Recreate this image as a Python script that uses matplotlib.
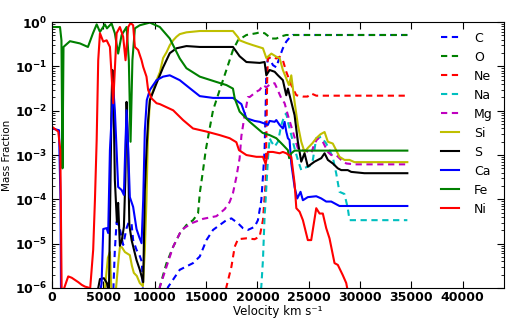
import numpy as np
import matplotlib
matplotlib.use("Agg")
import matplotlib.pyplot as plt
from matplotlib.ticker import FuncFormatter, LogLocator, NullFormatter

# velocities in km/s, abundances as log10(mass fraction)
c_v = [5640, 5980, 6120, 6290, 6610, 6930, 7260, 7480, 7750, 7900, 8230, 8550, 8750, 8890,
       10500, 11300, 12440, 13730, 14390, 15040, 15680, 16980, 17470, 18110, 18590, 19080,
       19730, 20050, 20380, 20540, 20700, 20820, 20870, 21020, 21190, 21510, 21840, 22160,
       22480, 22810, 23130, 23450, 34600]
c_log = [-6.27, -6.00, -5.14, -4.51, -4.67, -5.03, -4.65, -4.51, -4.56, -4.92, -5.14, -5.28, -5.41, -6.27,
         -6.5, -5.98, -5.59, -5.44, -5.29, -4.92, -4.69, -4.47, -4.43, -4.54, -4.65, -4.69,
         -4.62, -4.47, -4.02, -3.49, -2.89, -1.76, -1.08, -0.82, -0.82, -0.97, -1.02, -0.79,
         -0.59, -0.44, -0.35, -0.29, -0.29]

o_v = [10400, 10500, 11150, 11800, 12440, 13090, 13730, 14220, 14390, 14710, 14970, 15360,
       15680, 16330, 16980, 17620, 18110, 18930, 19900, 20220, 20700, 21360, 21840, 22330,
       22810, 34600]
o_log = [-6.27, -5.97, -5.44, -5.07, -4.77, -4.58, -4.47, -4.32, -3.86, -3.34, -2.89, -2.39,
         -1.99, -1.53, -1.08, -0.63, -0.41, -0.29, -0.25, -0.23, -0.25, -0.37, -0.37, -0.32,
         -0.29, -0.29]

ne_v = [16910, 16980, 17470, 17790, 18110, 18930, 19730, 20220, 20540, 20800, 20900, 20950,
        21020, 21360, 21840, 22160, 22480, 22810, 23300, 23790, 24430, 24880, 25240, 25730, 34600]
ne_log = [-6.27, -5.98, -5.52, -5.07, -4.90, -4.88, -4.90, -4.84, -4.47, -3.64, -2.21, -1.31,
          -0.82, -0.78, -0.82, -0.78, -0.86, -1.12, -1.42, -1.65, -1.68, -1.68, -1.61, -1.66, -1.66]

na_v = [20220, 20380, 20540, 20700, 20800, 21020, 21190, 21360, 21680, 22000, 22330, 22650,
        22810, 22970, 23300, 23620, 23940, 24270, 24590, 25080, 25400, 25730, 26220, 26700,
        27020, 27340, 27670, 27990, 28480, 28800, 28970, 34600]
na_log = [-6.27, -5.97, -5.37, -4.39, -4.02, -3.11, -2.62, -2.70, -2.81, -2.70, -2.32, -2.10,
          -2.06, -2.25, -2.55, -2.85, -3.11, -3.34, -3.29, -3.25, -3.11, -2.62, -2.59, -2.74,
          -2.89, -3.05, -3.41, -3.83, -3.88, -4.20, -4.47, -4.47]

mg_v = [10400, 10500, 11150, 11800, 12610, 13580, 14710, 16010, 16820, 17300, 17620, 17950,
        18270, 18440, 18760, 19080, 19250, 19900, 20220, 20540, 20870, 21360, 21680, 21840,
        22330, 22650, 22970, 23450, 23940, 24110, 24590, 25240, 25560, 25890, 26370, 26860,
        27190, 27670, 28160, 28650, 29450, 34600]
mg_log = [-6.27, -5.98, -5.52, -5.07, -4.69, -4.54, -4.44, -4.38, -4.22, -4.06, -3.86, -3.50,
          -3.07, -2.57, -2.10, -1.69, -1.69, -1.57, -1.53, -1.42, -1.47, -1.38, -1.38, -1.46,
          -1.72, -1.83, -2.10, -2.47, -2.85, -2.89, -2.89, -2.96, -2.74, -2.62, -2.70, -2.93,
          -3.00, -3.00, -3.11, -3.19, -3.21, -3.21]

si_v = [5050, 5440, 5640, 5780, 5880, 6220, 6460, 6610, 6800, 7100, 7580, 7780, 7970, 8260,
        8550, 8850, 9040, 9200, 9330, 9530, 10180, 10500, 10820, 11150, 11470, 11800, 12120,
        12440, 13090, 14390, 17620, 17790, 18110, 18270, 18930, 19570, 20540, 20870, 21360,
        21840, 22160, 22480, 22810, 23070, 23300, 23620, 23940, 24270, 24590, 24910, 25370,
        25730, 26150, 26540, 26860, 27340, 27670, 27990, 28480, 28970, 29450, 34600]
si_log = [-6.27, -5.32, -5.19, -6.05, -6.27, -6.05, -5.41, -5.08, -5.08, -5.19, -5.26, -5.50,
          -5.66, -5.73, -5.89, -5.96, -5.14, -4.02, -2.66, -1.76, -1.31, -1.13, -0.81, -0.68,
          -0.52, -0.41, -0.33, -0.27, -0.23, -0.20, -0.20, -0.25, -0.34, -0.41, -0.47, -0.52,
          -0.59, -0.81, -0.71, -0.78, -0.81, -1.08, -1.27, -1.42, -1.20, -1.80, -2.32, -2.70,
          -2.93, -2.84, -2.73, -2.62, -2.53, -2.48, -2.70, -2.74, -2.89, -3.04, -3.11, -3.11,
          -3.16, -3.16]

s_v = [4370, 4670, 5050, 5350, 5540, 5670, 5800, 5880, 5980, 6120, 6320, 6440, 6610, 6800,
       7000, 7140, 7260, 7390, 7530, 7750, 8230, 8550, 8880, 9040, 9200, 9360, 9530, 10180,
       10820, 11470, 12120, 13090, 14390, 17620, 18270, 18930, 20220, 20700, 20870, 21190,
       21680, 22000, 22480, 22810, 22970, 23300, 23620, 23940, 24270, 24590, 24910, 25560,
       26220, 26540, 26860, 27340, 27830, 28160, 28800, 29130, 30420, 34600]
s_log = [-6.16, -5.80, -5.78, -5.89, -6.16, -4.02, -1.76, -1.08, -1.53, -3.56, -4.51, -4.08,
         -5.05, -4.92, -4.62, -3.56, -1.80, -2.66, -4.58, -4.92, -5.37, -5.59, -5.87, -3.79,
         -2.89, -2.21, -1.76, -1.38, -1.02, -0.70, -0.59, -0.54, -0.56, -0.56, -0.77, -0.90,
         -0.92, -0.90, -1.20, -1.08, -1.12, -1.20, -1.31, -1.65, -1.50, -1.80, -2.10, -2.70,
         -3.15, -2.96, -3.26, -3.15, -3.07, -2.96, -3.11, -3.19, -3.30, -3.34, -3.34, -3.38,
         -3.41, -3.41]

ca_v = [0, 680, 830, 880, 4570, 4830, 4990, 5320, 5470, 5640, 5960, 6120, 6290, 6440, 6780,
        7000, 7100, 7260, 7420, 7580, 7900, 8230, 8490, 8720, 8880, 9040, 9230, 9530, 10180,
        10820, 11470, 12440, 13410, 14390, 15680, 17620, 18440, 18930, 19730, 20220, 20700,
        21020, 21190, 21680, 21840, 22160, 22480, 22650, 22810, 22970, 23130, 23300, 23620,
        23880, 24200, 24430, 24910, 25730, 26220, 26700, 27190, 27510, 27990, 34600]
ca_log = [-2.40, -2.44, -4.02, -6.27, -6.27, -5.89, -4.67, -4.65, -4.76, -2.89, -1.47, -1.99,
          -2.89, -3.72, -3.79, -3.90, -3.11, -1.99, -2.89, -3.95, -4.17, -4.67, -4.85, -4.99,
          -4.02, -2.44, -1.76, -1.53, -1.31, -1.23, -1.20, -1.31, -1.49, -1.67, -1.71, -1.71,
          -1.85, -2.17, -2.23, -2.25, -2.29, -2.32, -2.23, -2.25, -2.21, -2.32, -2.40, -2.25,
          -2.47, -2.62, -2.66, -3.19, -3.72, -3.98, -3.83, -4.02, -3.95, -3.93, -3.98, -4.05,
          -4.05, -4.09, -4.15, -4.15]

fe_v = [0, 780, 920, 1020, 1120, 1750, 2720, 3500, 3990, 4350, 4670, 5150, 5350, 5800, 6120,
        6440, 6780, 7260, 7480, 7650, 7830, 8070, 8550, 9530, 10500, 11470, 12440, 13090,
        14390, 16010, 16980, 17620, 17790, 18270, 19250, 20510, 21190, 21840, 22480, 22970,
        23090, 23300, 23620, 34600]
fe_log = [-0.11, -0.11, -0.41, -3.3, -0.56, -0.43, -0.48, -0.56, -0.25, -0.05, -0.22, -0.05,
          -0.14, -0.03, -0.25, -0.71, -0.29, -0.11, -0.86, -2.70, -0.86, -0.14, -0.07, -0.01,
          -0.11, -0.37, -0.82, -1.04, -1.23, -1.35, -1.42, -1.50, -1.72, -2.02, -2.25, -2.50,
          -2.55, -2.62, -2.77, -2.89, -3.07, -2.96, -2.90, -2.90]

ni_v = [0, 610, 810, 940, 1020, 1120, 1430, 1580, 1920, 2240, 2560, 2890, 3210, 3530, 3690,
        4010, 4180, 4350, 4500, 4670, 4990, 5320, 5640, 5960, 6290, 6610, 6930, 7160, 7420,
        7650, 7900, 8070, 8390, 8720, 8880, 9200, 9360, 9690, 10180, 10500, 11800, 12760,
        13730, 15040, 16330, 17300, 17950, 18210, 18930, 19900, 20540, 20800, 21020, 21510,
        22160, 22480, 22810, 23300, 23620, 23790, 24110, 24430, 24910, 25240, 25730, 26050,
        26370, 26700, 27020, 27510, 27830, 28310, 28650, 28870]
ni_log = [-2.36, -2.47, -2.89, -6.05, -6.27, -6.05, -5.84, -5.74, -5.77, -5.82, -5.87, -5.93,
          -5.97, -5.99, -6.09, -5.14, -4.02, -2.66, -0.86, -0.25, -0.44, -0.41, -0.56, -1.83,
          -0.25, -0.11, -0.33, -0.86, -0.11, -0.02, -0.07, -0.56, -0.63, -0.86, -1.01, -1.23,
          -1.53, -1.72, -1.83, -1.85, -1.99, -2.21, -2.40, -2.47, -2.55, -2.62, -2.71, -2.89,
          -3.00, -3.04, -3.04, -3.20, -2.93, -2.93, -2.96, -2.93, -2.96, -3.04, -3.64, -4.20,
          -4.28, -4.47, -4.92, -4.92, -4.20, -4.32, -4.32, -4.65, -4.88, -5.44, -5.48, -5.71,
          -5.89, -6.16]

species = [
    ('C', c_v, c_log, '#0000ff', '--'),
    ('O', o_v, o_log, '#008000', '--'),
    ('Ne', ne_v, ne_log, '#ff0000', '--'),
    ('Na', na_v, na_log, '#00bfbf', '--'),
    ('Mg', mg_v, mg_log, '#bf00bf', '--'),
    ('Si', si_v, si_log, '#bfbf00', '-'),
    ('S', s_v, s_log, '#000000', '-'),
    ('Ca', ca_v, ca_log, '#0000ff', '-'),
    ('Fe', fe_v, fe_log, '#008000', '-'),
    ('Ni', ni_v, ni_log, '#ff0000', '-'),
]

plt.rcParams['font.weight'] = 'bold'

fig = plt.figure(figsize=(5.2, 3.21), dpi=100)
ax = fig.add_axes([0.1, 0.103, 0.869, 0.828])

for name, v, lg, col, ls in species:
    if ls == '--':
        ax.plot(v, 10 ** np.array(lg), color=col, lw=1.5, ls=ls, dashes=(3, 2.2), label=name)
    else:
        ax.plot(v, 10 ** np.array(lg), color=col, lw=1.5, ls=ls, label=name)

ax.set_yscale('log')
ax.set_xlim(0, 44000)
ax.set_ylim(1e-6, 1)
ax.set_xticks(range(0, 40001, 5000))
ax.yaxis.set_major_locator(LogLocator(base=10, numticks=10))
ax.yaxis.set_minor_locator(LogLocator(base=10, subs=np.arange(2, 10), numticks=10))
ax.yaxis.set_major_formatter(FuncFormatter(lambda y, _: r'$\mathbf{10^{%d}}$' % round(np.log10(y))))
ax.yaxis.set_minor_formatter(NullFormatter())
ax.tick_params(which='both', direction='in', top=True, right=True)
ax.tick_params(which='major', length=5, labelsize=9)
ax.tick_params(axis='x', pad=2.5)
ax.tick_params(which='minor', length=2.5)

ax.set_xlabel('Velocity km s\u207b\u00b9', fontsize=8.5, fontweight='normal')
ax.set_ylabel('Mass Fraction', fontsize=7.5, fontweight='normal')
ax.xaxis.set_label_coords(0.5, -0.063)
ax.yaxis.set_label_coords(-0.088, 0.5)

ax.legend(loc='upper left', bbox_to_anchor=(0.837, 1.006), frameon=False,
          prop={'size': 9, 'weight': 'normal'},
          handlelength=1.4, handletextpad=1.2, labelspacing=0.48)

fig.savefig('out.png', dpi=100)
